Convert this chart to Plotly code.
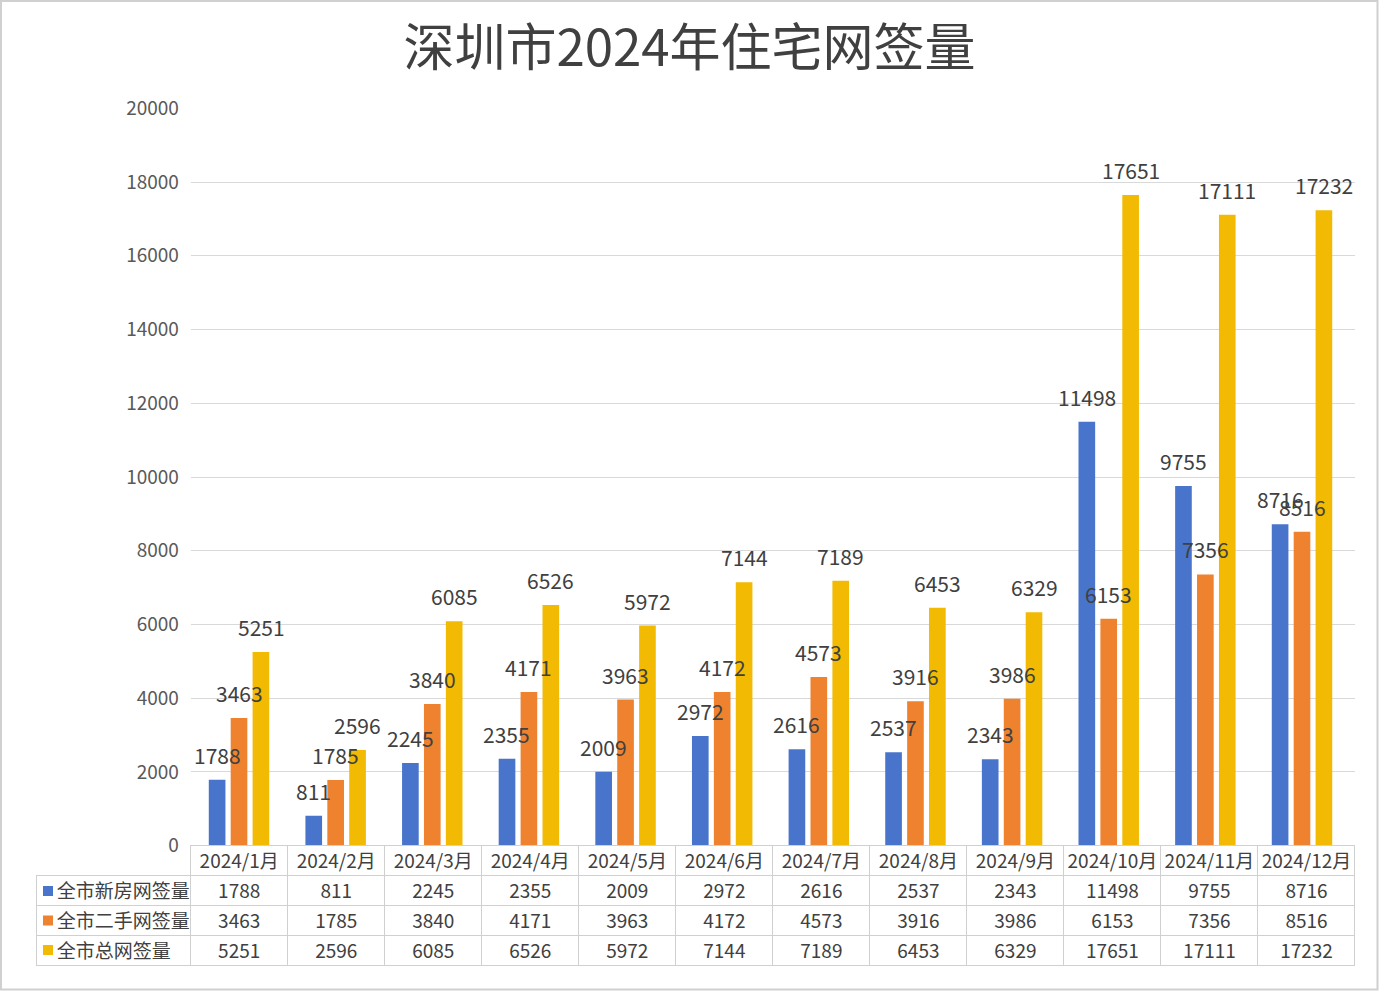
import plotly.graph_objects as go

months = ['2024/1月', '2024/2月', '2024/3月', '2024/4月', '2024/5月', '2024/6月',
          '2024/7月', '2024/8月', '2024/9月', '2024/10月', '2024/11月', '2024/12月']
new_home = [1788, 811, 2245, 2355, 2009, 2972, 2616, 2537, 2343, 11498, 9755, 8716]
second_hand = [3463, 1785, 3840, 4171, 3963, 4172, 4573, 3916, 3986, 6153, 7356, 8516]
total = [5251, 2596, 6085, 6526, 5972, 7144, 7189, 6453, 6329, 17651, 17111, 17232]

series_names = ['全市新房网签量', '全市二手网签量', '全市总网签量']
colors = ['#4874CB', '#EE822F', '#F2BA02']

W, H = 1379, 992
FONT = 'Noto Sans CJK SC'
GRID = '#D9D9D9'
BORDER = '#D0D0D0'
CLEAR = 'rgba(0,0,0,0)'

# pixel layout of the plot area / table
px_left, px_right = 190.7, 1355
px_zero, px_top = 845.7, 108.3
tab_left, tab_bottom = 36, 966


def fx(p):
    return p / W


def fy(p):
    return 1 - p / H


fig = go.Figure()

series = [new_home, second_hand, total]
for name, vals, col in zip(series_names, series, colors):
    fig.add_trace(go.Bar(x=months, y=vals, name=name, marker_color=col,
                         marker_line_width=0, showlegend=False))

# data labels, sitting above each bar
slot = 22
for i, vals in enumerate(series):
    for m, v in zip(months, vals):
        fig.add_annotation(x=m, y=v, xref='x', yref='y', text=str(v),
                           showarrow=False, xshift=(i - 1) * slot, yshift=25,
                           font=dict(family=FONT, size=21, color='#404040'))

# data table under the plot
nb = '\u00a0'
first_col = [''] + [nb * 3 + n for n in series_names]
cols = [first_col] + [[m, a, b, c] for m, a, b, c in zip(months, new_home, second_hand, total)]
line_cols = [[CLEAR, BORDER, BORDER, BORDER]] + [[BORDER] * 4 for _ in months]
fill_cols = [[CLEAR, 'white', 'white', 'white']] + [['white'] * 4 for _ in months]
col_w = (px_right - px_left) / len(months)

fig.add_trace(go.Table(
    domain=dict(x=[fx(tab_left), fx(px_right)], y=[fy(tab_bottom + 4), fy(px_zero)]),
    columnwidth=[px_left - tab_left] + [col_w] * len(months),
    header=dict(values=[''] * 13, height=0, line=dict(width=0), fill=dict(color=CLEAR)),
    cells=dict(values=cols, height=30,
               align=['left'] + ['center'] * len(months),
               line=dict(color=line_cols, width=1),
               fill=dict(color=fill_cols),
               font=dict(family=FONT, size=19, color='#404040')),
))

# legend keys in the table's first column
for k, col in enumerate(colors):
    yc = 891 + 29.5 * k
    fig.add_shape(type='rect', xref='paper', yref='paper', x0=fx(43), x1=fx(53),
                  y0=fy(yc + 5), y1=fy(yc - 5), fillcolor=col, line_width=0)

fig.update_layout(
    width=W, height=H,
    margin=dict(l=0, r=0, t=0, b=0, autoexpand=False),
    paper_bgcolor='white', plot_bgcolor='white',
    barmode='group', bargap=0.32, bargroupgap=0.24,
    title=dict(text='深圳市2024年住宅网签量', x=0.5, xanchor='center',
               y=fy(48), yanchor='middle',
               font=dict(family=FONT, size=51, color='#404040')),
    font=dict(family=FONT, color='#595959'),
    xaxis=dict(domain=[fx(px_left), fx(px_right)], showticklabels=False,
               showline=True, linecolor=BORDER, linewidth=1, showgrid=False,
               ticks='', automargin=False),
    yaxis=dict(domain=[fy(px_zero), fy(px_top)], range=[0, 20000], dtick=2000,
               tickformat='d', automargin=False,
               showgrid=True, gridcolor=GRID, gridwidth=1, zeroline=False,
               ticks='outside', ticklen=7, tickcolor=CLEAR,
               tickfont=dict(family=FONT, size=19, color='#595959')),
)

# outer chart border
fig.add_shape(type='rect', xref='paper', yref='paper', x0=fx(1), x1=fx(W - 1.5),
              y0=fy(H - 2.5), y1=fy(1), line=dict(color=BORDER, width=2))

fig.write_html("out.html", config={'displayModeBar': False},
               post_script="document.body.style.margin='0';")
